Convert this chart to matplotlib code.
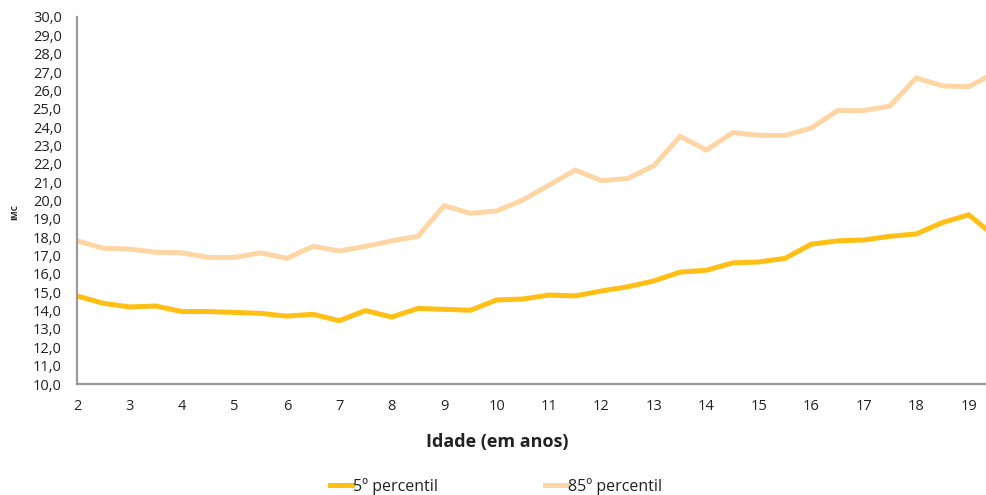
import matplotlib
matplotlib.use("Agg")
import matplotlib.pyplot as plt
from matplotlib.ticker import FuncFormatter, MultipleLocator

plt.rcParams['font.family'] = ['Open Sans', 'DejaVu Sans']

ages = [2, 2.5, 3, 3.5, 4, 4.5, 5, 5.5, 6, 6.5, 7, 7.5, 8, 8.5, 9, 9.5, 10, 10.5,
        11, 11.5, 12, 12.5, 13, 13.5, 14, 14.5, 15, 15.5, 16, 16.5, 17, 17.5,
        18, 18.5, 19, 19.5]
p5 = [14.8, 14.4, 14.2, 14.25, 13.95, 13.95, 13.9, 13.85, 13.7, 13.8, 13.45, 14.0,
      13.65, 14.12, 14.07, 14.02, 14.58, 14.63, 14.85, 14.8, 15.07, 15.3, 15.62,
      16.1, 16.2, 16.6, 16.65, 16.85, 17.62, 17.8, 17.85, 18.05, 18.18, 18.8,
      19.22, 18.05]
p85 = [17.8, 17.4, 17.35, 17.18, 17.15, 16.9, 16.9, 17.15, 16.85, 17.5, 17.25, 17.5,
       17.8, 18.05, 19.72, 19.3, 19.43, 20.03, 20.84, 21.66, 21.08, 21.2, 21.9,
       23.5, 22.75, 23.7, 23.55, 23.55, 23.95, 24.9, 24.9, 25.15, 26.68, 26.25,
       26.2, 26.95]
xticks = list(range(2, 20))
series_labels = ['5º percentil', '85º percentil']

c5 = '#FFBF14'
c85 = '#FED6A6'

fig = plt.figure(figsize=(9.86, 4.95), dpi=100)
ax = fig.add_axes([0.0781, 0.2242, 1 - 0.0781, 0.9657 - 0.2242])

l1, = ax.plot(ages, p5, color=c5, lw=3.6, solid_joinstyle='miter', label=series_labels[0])
l2, = ax.plot(ages, p85, color=c85, lw=3.6, solid_joinstyle='miter', label=series_labels[1])

ax.set_xlim(2, 19.33)
ax.set_ylim(10, 30)
ax.set_xticks(xticks)
ax.yaxis.set_major_locator(MultipleLocator(1))
ax.yaxis.set_major_formatter(FuncFormatter(lambda v, p: f"{v:.1f}".replace('.', ',')))
ax.tick_params(axis='both', length=0, labelsize=10.5, colors='#222222')
ax.tick_params(axis='x', pad=11)
ax.tick_params(axis='y', pad=11)

for s in ['top', 'right']:
    ax.spines[s].set_visible(False)
for s in ['left', 'bottom']:
    ax.spines[s].set_color('#999999')
    ax.spines[s].set_linewidth(1.6)

fig.text(0.504, 1 - 442 / 495, 'Idade (em anos)', fontsize=13, fontweight='bold',
         color='#222222', ha='center', va='center')
fig.text(15 / 986, 1 - 212 / 495, 'IMC', fontsize=6, fontweight='bold',
         color='#222222', ha='center', va='center', rotation=90)

fig.legend(handles=[l1, l2], loc='center', bbox_to_anchor=(0.503, 0.018),
           ncol=2, frameon=False, fontsize=11.5, handlelength=1.4,
           handletextpad=0.05, columnspacing=6.7, labelcolor='#222222')

fig.savefig('out.png', dpi=100)
